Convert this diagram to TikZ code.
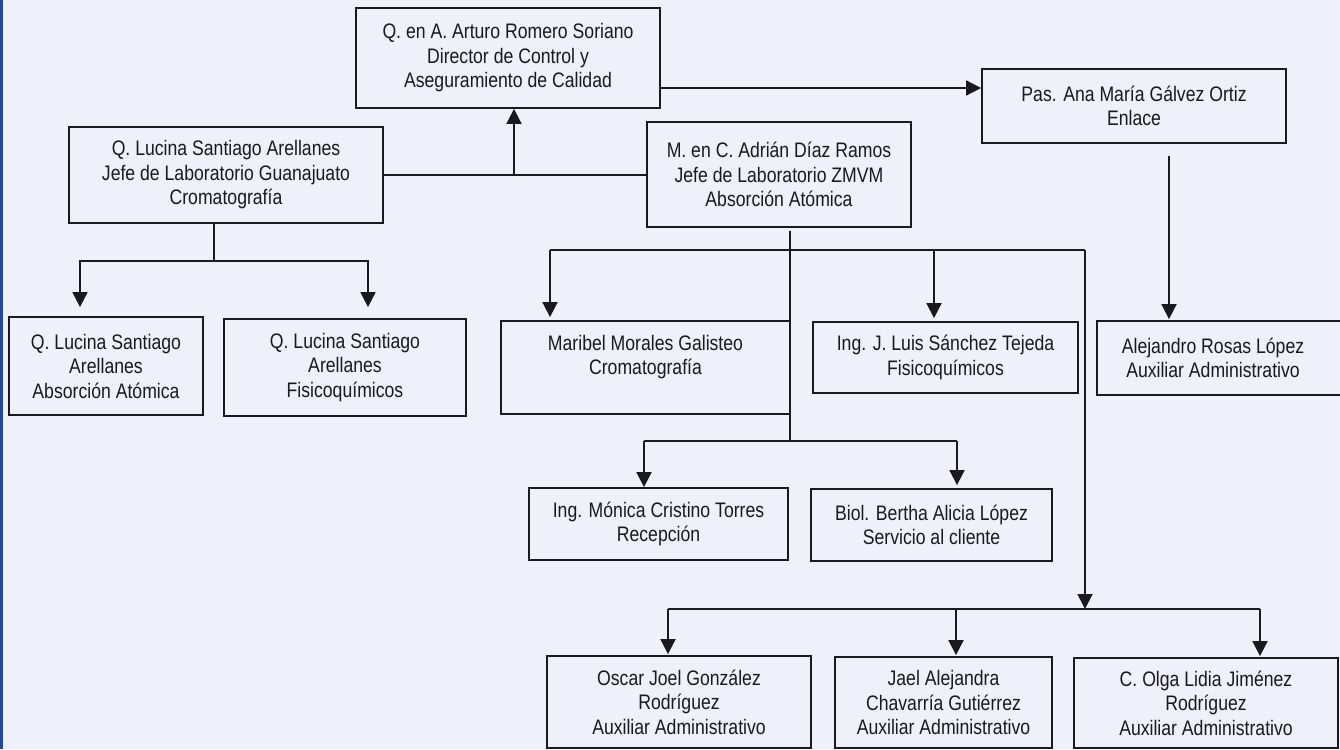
\documentclass[tikz,border=0pt]{standalone}
\usepackage{fontspec}
\setmainfont[FakeStretch=0.84]{Liberation Sans}
\usetikzlibrary{arrows.meta}
\definecolor{bg}{RGB}{238,240,250}
\definecolor{ink}{RGB}{25,25,30}
\definecolor{edgeblue}{RGB}{30,75,155}
\begin{document}
\begin{tikzpicture}[x=1bp,y=-1bp,
  box/.style={draw=ink,line width=1.8bp,rectangle,inner sep=0pt,align=center,
    font=\fontsize{21bp}{24.5bp}\selectfont,text=ink},
  lbl/.style={align=center,inner sep=0pt,font=\fontsize{21bp}{24.5bp}\selectfont,text=ink},
  conn/.style={draw=ink,line width=1.8bp},
  arr/.style={conn,-{Triangle[width=15bp,length=15bp]}}]
\clip (0,0) rectangle (1340,749);
\fill[bg] (0,0) rectangle (1340,749);
\fill[edgeblue] (0,0) rectangle (3,749);

% boxes
\node[box,minimum width=304bp,minimum height=100bp] (dir) at (508,58)
  {Q. en A. Arturo Romero Soriano\\Director de Control y\\Aseguramiento de Calidad};
\node[box,minimum width=304bp,minimum height=74bp] (pas) at (1134,106)
  {Pas. Ana María Gálvez Ortiz\\Enlace};
\node[box,minimum width=314bp,minimum height=96bp] (luc) at (226,175)
  {Q. Lucina Santiago Arellanes\\Jefe de Laboratorio Guanajuato\\Cromatografía};
\node[box,minimum width=264bp,minimum height=105bp] (adr) at (779,174.5)
  {M. en C. Adrián Díaz Ramos\\Jefe de Laboratorio ZMVM\\Absorción Atómica};
\node[box,minimum width=194bp,minimum height=98bp] (lucAA) at (106,366)
  {Q. Lucina Santiago\\Arellanes\\Absorción Atómica};
\node[box,minimum width=242bp,minimum height=97bp] (lucFQ) at (345,367.5)
  {Q. Lucina Santiago\\Arellanes\\Fisicoquímicos};
\node[box,minimum width=289bp,minimum height=93bp,
  label={[lbl,yshift=10.5bp]center:{Maribel Morales Galisteo\\Cromatografía}}] (mar) at (645.5,367.5) {};
\node[box,minimum width=265bp,minimum height=71bp] (ing) at (945.5,357.5)
  {Ing. J. Luis Sánchez Tejeda\\Fisicoquímicos};
\node[box,minimum width=246bp,minimum height=74bp,
  label={[lbl,xshift=-7bp]center:{Alejandro Rosas López\\Auxiliar Administrativo}}] (ale) at (1220,358) {};
\node[box,minimum width=259bp,minimum height=72bp] (mon) at (658.5,524)
  {Ing. Mónica Cristino Torres\\Recepción};
\node[box,minimum width=241bp,minimum height=72bp] (ber) at (931.5,525)
  {Biol. Bertha Alicia López\\Servicio al cliente};
\node[box,minimum width=264bp,minimum height=92bp] (osc) at (679,702)
  {Oscar Joel González\\Rodríguez\\Auxiliar Administrativo};
\node[box,minimum width=217bp,minimum height=91bp] (jae) at (943.5,702.5)
  {Jael Alejandra\\Chavarría Gutiérrez\\Auxiliar Administrativo};
\node[box,minimum width=264bp,minimum height=90bp] (olg) at (1206,703)
  {C. Olga Lidia Jiménez\\Rodríguez\\Auxiliar Administrativo};

% junction coordinates
\coordinate (jl) at (514,175);
\coordinate (lb) at (214,261);
\coordinate (am) at (790,441);
\coordinate (b1) at (550,250);
\coordinate (b2) at (1085,250);
\coordinate (b3) at (934,250);
\coordinate (b4) at (1085,609);
\coordinate (c1) at (668,609);
\coordinate (c2) at (956,609);
\coordinate (c3) at (1260,609);
\coordinate (m1) at (644,441);
\coordinate (m2) at (957,441);

% connectors
\draw[arr] (dir.east |- 0,88) -- (pas.west |- 0,88);
\draw[conn] (luc.east) -- (luc.east -| adr.west);
\draw[arr] (jl) -- (jl |- dir.south);

\draw[conn] (lb |- luc.south) -- (lb);
\draw[arr,shorten >=9bp] (lb) -| (lucAA.north -| 80,0);
\draw[arr,shorten >=11bp] (lb) -| (lucFQ.north -| 368,0);

\draw[conn] ([yshift=-3bp]adr.south -| am) -- (am);
\draw[conn] (b1) -- (b2);
\draw[arr,shorten >=3bp] (b1) -- (b1 |- mar.north);
\draw[arr,shorten >=3bp] (b3) -- (b3 |- ing.north);
\draw[arr] (b2) -- (b4);

\draw[conn] (m1) -- (m2);
\draw[arr] (m1) -- (m1 |- mon.north);
\draw[arr,shorten >=3bp] (m2) -- (m2 |- ber.north);

\draw[conn] (c1) -- (c3);
\draw[arr,shorten >=1bp] (c1) -- (c1 |- osc.north);
\draw[arr,shorten >=1bp] (c2) -- (c2 |- jae.north);
\draw[arr,shorten >=1bp] (c3) -- (c3 |- olg.north);

\draw[arr,shorten >=1bp] ([yshift=-12bp]pas.south -| 1169,0) -- (ale.north -| 1169,0);
\end{tikzpicture}
\end{document}
